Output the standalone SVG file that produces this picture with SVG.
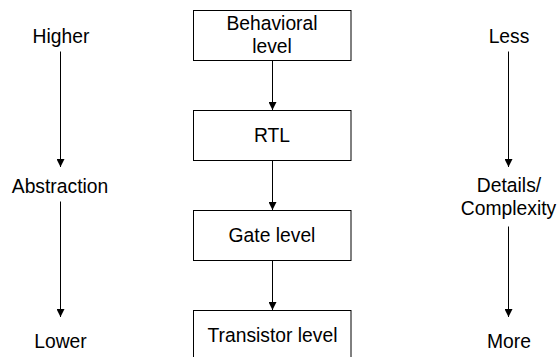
<svg xmlns="http://www.w3.org/2000/svg" width="558" height="357" viewBox="0 0 558 357">
  <style>
    .box { fill: #ffffff; stroke: #000000; stroke-width: 1; }
    .lbl { font-family: "Liberation Sans", Arial, sans-serif; font-size: 19.3px; fill: #000000; text-anchor: middle; }
    .arr { stroke: #000000; stroke-width: 1; fill: none; marker-end: url(#head); }
  </style>
  <defs>
    <marker id="head" markerUnits="userSpaceOnUse" markerWidth="8" markerHeight="8" refX="8" refY="4" orient="auto">
      <path d="M0,0 L8,4 L0,8 z" fill="#000000"/>
    </marker>
  </defs>

  <rect width="558" height="357" fill="#ffffff"/>

  <!-- design levels -->
  <g id="behavioral">
    <rect class="box" x="193.5" y="10.5" width="157.5" height="50"/>
    <text class="lbl" x="272" y="30">Behavioral</text>
    <text class="lbl" x="272" y="53">level</text>
  </g>
  <g id="rtl">
    <rect class="box" x="193.5" y="110.5" width="157.5" height="50"/>
    <text class="lbl" x="272" y="142">RTL</text>
  </g>
  <g id="gate">
    <rect class="box" x="193.5" y="210.5" width="157.5" height="50"/>
    <text class="lbl" x="272" y="242">Gate level</text>
  </g>
  <g id="transistor">
    <rect class="box" x="193.5" y="310.5" width="157.5" height="60"/>
    <text class="lbl" x="272.5" y="341.5">Transistor level</text>
  </g>

  <!-- abstraction scale -->
  <g id="abstraction">
    <text class="lbl" x="61" y="42.5">Higher</text>
    <text class="lbl" x="60" y="193">Abstraction</text>
    <text class="lbl" x="60.5" y="348">Lower</text>
  </g>

  <!-- detail scale -->
  <g id="detail">
    <text class="lbl" x="509" y="42.5">Less</text>
    <text class="lbl" x="509" y="192">Details/</text>
    <text class="lbl" x="508.5" y="215">Complexity</text>
    <text class="lbl" x="509" y="348">More</text>
  </g>

  <g id="connectors">
    <line class="arr" x1="272.5" y1="61" x2="272.5" y2="110"/>
    <line class="arr" x1="272.5" y1="161" x2="272.5" y2="210"/>
    <line class="arr" x1="272.5" y1="261" x2="272.5" y2="310"/>
    <line class="arr" x1="60.5" y1="51.5" x2="60.5" y2="167"/>
    <line class="arr" x1="60.5" y1="201.5" x2="60.5" y2="317"/>
    <line class="arr" x1="508.5" y1="51.5" x2="508.5" y2="167"/>
    <line class="arr" x1="508.5" y1="226.5" x2="508.5" y2="317"/>
  </g>
</svg>
